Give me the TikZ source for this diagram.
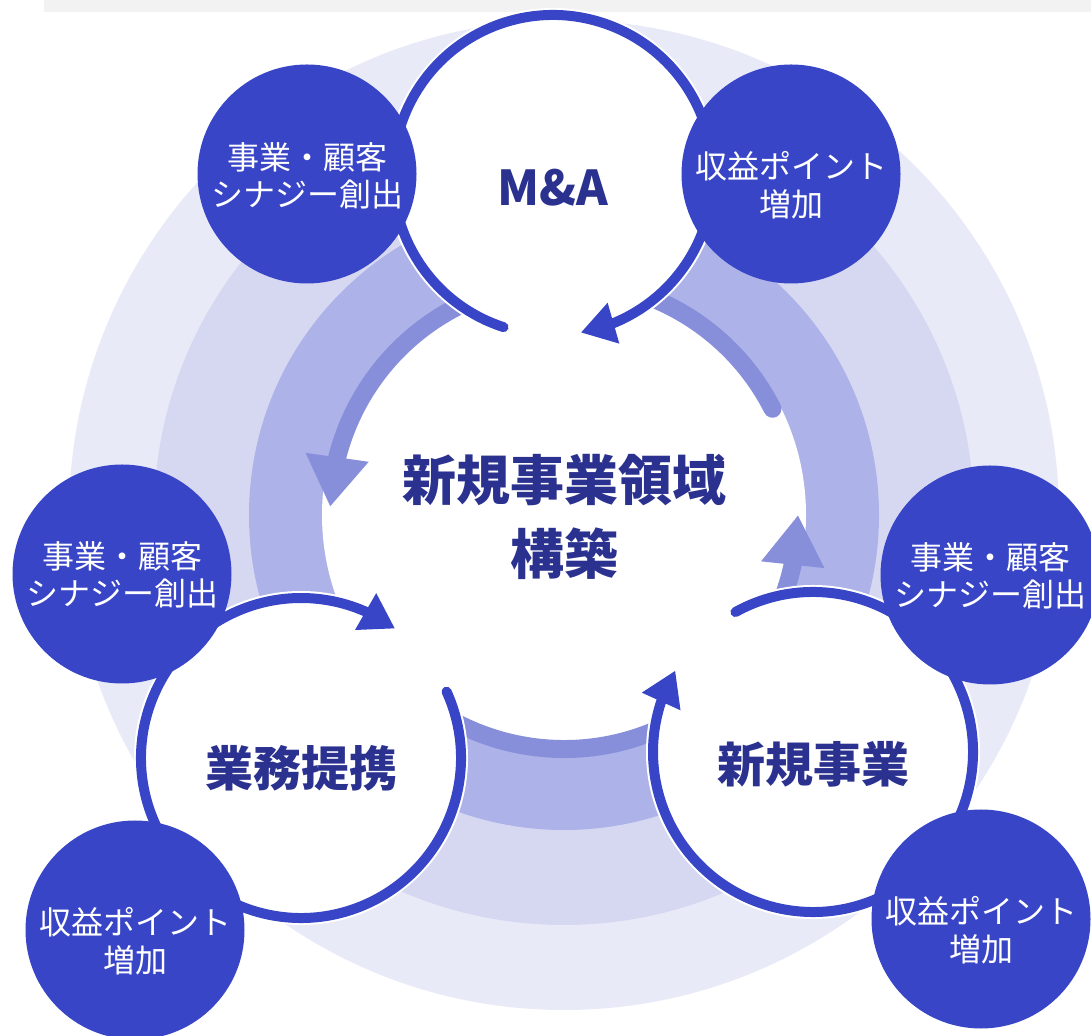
\documentclass[tikz,border=0pt]{standalone}
\usepackage{fontspec}
\newfontfamily\jpfont{Noto Sans CJK JP}
\usetikzlibrary{arrows.meta, bending}
\definecolor{ringA}{HTML}{E9EAF8}
\definecolor{ringB}{HTML}{D6D8F2}
\definecolor{ringC}{HTML}{ADB2E8}
\definecolor{ringArrow}{HTML}{878FDB}
\definecolor{mainBlue}{HTML}{3845C6}
\definecolor{navy}{HTML}{2A318F}
\definecolor{barGrey}{HTML}{F2F2F2}

\begin{document}
\begin{tikzpicture}[x=1pt, y=1pt,
    bluedot/.style={circle, fill=mainBlue, minimum size=219pt, inner sep=0pt},
    whitedisc/.style={circle, fill=white, minimum size=334pt, inner sep=0pt},
    smalltxt/.style={text=white, align=center, inner sep=0pt, font=\jpfont\fontsize{32}{37.5}\selectfont},
    bigtxt/.style={text=navy, inner sep=0pt, font=\jpfont\bfseries\fontsize{48}{56}\selectfont},
    coretxt/.style={text=navy, align=center, inner sep=0pt, font=\jpfont\bfseries\fontsize{54}{74.5}\selectfont},
    cyclearc/.style={draw=mainBlue, line width=10pt, line cap=round, -{Triangle[length=34pt, width=40pt]}},
    flowarc/.style={draw=ringArrow, line width=18pt, line cap=round, -{Triangle[length=50pt, width=60pt]}}]

    % Page and top bar
    \fill[white] (0,0) rectangle (1091,1035);
    \useasboundingbox (0,0) rectangle (1091,1035);
    \fill[barGrey] (44,1023) rectangle (1091,1035);

    % Rings round the core
    \coordinate (core) at (564,520);
    \fill[ringA] (core) circle[radius=495];
    \fill[ringB] (core) circle[radius=410];
    \fill[ringC] (core) circle[radius=315];
    \fill[white] (core) circle[radius=242];

    % Flow arrows on the inner ring
    \draw[flowarc] (core) ++(27:234) arc[start angle=27, end angle=178, radius=234];
    \draw[flowarc] (core) ++(210:234) arc[start angle=210, end angle=360, radius=234];

    % Three businesses
    \node[whitedisc] (ma) at (553,860) {};
    \node[whitedisc] (alliance) at (301,277) {};
    \node[whitedisc] (newbiz) at (813,283) {};

    \draw[cyclearc] (ma.center) ++(-108:160) arc[start angle=-108, end angle=-440, radius=160];
    \draw[cyclearc] (alliance.center) ++(24.5:160) arc[start angle=24.5, end angle=-306, radius=160];
    \draw[cyclearc] (newbiz.center) ++(119:160) arc[start angle=119, end angle=-210.6, radius=160];

    \node[bigtxt] (malabel) at ([yshift=-13pt]ma.center) {M\&A};
    \node[bigtxt] (alliancelabel) at ([yshift=-10pt]alliance.center) {業務提携};
    \node[bigtxt] (newbizlabel) at ([yshift=-12pt]newbiz.center) {新規事業};
    \node[coretxt] (corelabel) at ([yshift=-2pt]core) {新規事業領域\\構築};

    % Effects
    \node[bluedot] (synA) at (307,861) {};
    \node[bluedot] (revA) at (791,861) {};
    \node[bluedot] (synB) at (122,461) {};
    \node[bluedot] (synC) at (990,460) {};
    \node[bluedot] (revB) at (135,105) {};
    \node[bluedot] (revC) at (981,116) {};

    \node[smalltxt] (synAtext) at ([yshift=-2pt]synA.center) {事業・顧客\\シナジー創出};
    \node[smalltxt] (synBtext) at ([yshift=-1pt]synB.center) {事業・顧客\\シナジー創出};
    \node[smalltxt] (synCtext) at ([yshift=-1pt]synC.center) {事業・顧客\\シナジー創出};
    \node[smalltxt] (revAtext) at ([yshift=-11pt]revA.center) {収益ポイント\\増加};
    \node[smalltxt] (revBtext) at ([yshift=-11pt]revB.center) {収益ポイント\\増加};
    \node[smalltxt] (revCtext) at ([yshift=-11pt]revC.center) {収益ポイント\\増加};
\end{tikzpicture}
\end{document}
